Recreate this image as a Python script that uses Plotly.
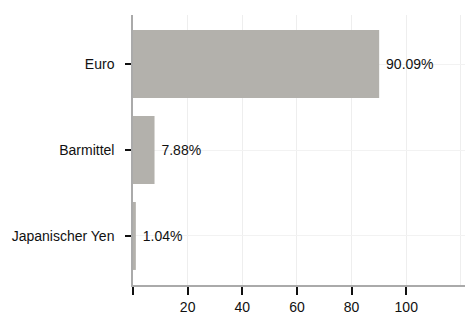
import plotly.graph_objects as go

categories = ["Euro", "Barmittel", "Japanischer Yen"]
values = [90.09, 7.88, 1.04]
labels = ["90.09%", "7.88%", "1.04%"]
tick_vals = [0, 20, 40, 60, 80, 100]
tick_text = ["", "20", "40", "60", "80", "100"]

FONT = "Liberation Sans"

fig = go.Figure(go.Bar(
    x=values, y=categories, orientation="h",
    marker=dict(color="#b3b1ac", line=dict(width=0)),
    width=0.79,
    text=[" " + t for t in labels], textposition="outside",
    textfont=dict(family=FONT, size=14, color="#111111"),
    cliponaxis=False,
))

fig.update_layout(
    width=467, height=313,
    margin=dict(l=133, r=2, t=15, b=28),
    paper_bgcolor="white", plot_bgcolor="white",
    font=dict(family=FONT, size=14, color="#111111"),
    showlegend=False,
    xaxis=dict(
        automargin=False,
        range=[0, 121.5], tickvals=tick_vals, ticktext=tick_text,
        showgrid=True, gridcolor="#eeeeee", gridwidth=1,
        showline=True, linecolor="#aaaaaa", linewidth=1.5,
        ticks="outside", ticklen=8, tickcolor="#111111", tickwidth=1.5,
        zeroline=False,
        minor=dict(tickvals=[120], showgrid=True, gridcolor="#eeeeee", ticks=""),
    ),
    yaxis=dict(
        automargin=False,
        autorange=False, range=[2.57, -0.57],
        showgrid=True, gridcolor="#f2f2f2",
        showline=True, linecolor="#aaaaaa", linewidth=1.5,
        ticks="outside", ticklen=6, tickcolor="#111111", tickwidth=1.5,
        ticklabelstandoff=8,
    ),
)

fig.write_html(
    "out.html",
    config={"displayModeBar": False},
    post_script="document.body.style.margin='0';document.body.style.overflow='hidden';",
)
